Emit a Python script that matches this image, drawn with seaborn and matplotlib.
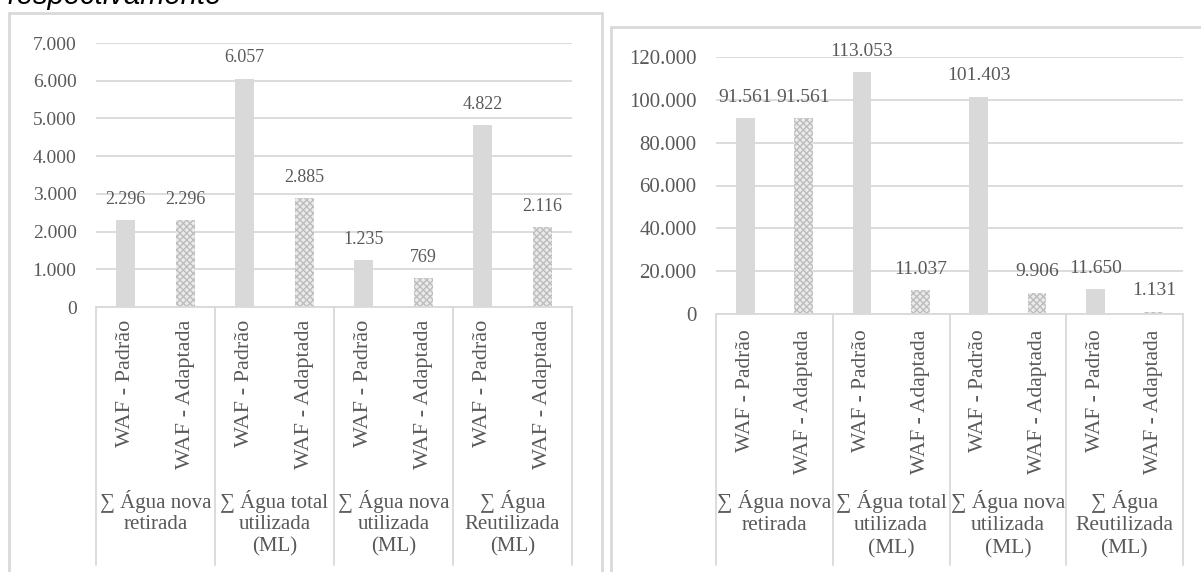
import matplotlib
matplotlib.use("Agg")
import matplotlib.pyplot as plt
import matplotlib.transforms as mtransforms
from matplotlib.patches import Rectangle
import seaborn as sns
import pandas as pd

# ---- data -------------------------------------------------------------
grupos = [
    "∑ Água nova\nretirada",
    "∑ Água total\nutilizada\n(ML)",
    "∑ Água nova\nutilizada\n(ML)",
    "∑ Água\nReutilizada\n(ML)",
]
metodos = ["WAF - Padrão", "WAF - Adaptada"]

valores_esq = [2296, 2296, 6057, 2885, 1235, 769, 4822, 2116]
valores_dir = [91561, 91561, 113053, 11037, 101403, 9906, 11650, 1131]

ticks_esq = [0, 1000, 2000, 3000, 4000, 5000, 6000, 7000]
ticks_dir = [0, 20000, 40000, 60000, 80000, 100000, 120000]

# ---- style ------------------------------------------------------------
sns.set_theme(style="white")
plt.rcParams["font.family"] = ["Liberation Serif", "DejaVu Serif"]
plt.rcParams["hatch.linewidth"] = 1.0

CINZA = "#d9d9d9"
TEXTO = "#595959"
W, H = 1201, 572

fig = plt.figure(figsize=(W / 100, H / 100), dpi=100)


def fx(px):
    return px / W


def fy(py):
    return 1 - py / H


def milhar(v):
    return f"{int(v):,}".replace(",", ".")


# panel frames
for x0, y0, x1 in [(9, 13, 602), (611, 27, 1205)]:
    fig.patches.append(Rectangle((fx(x0), fy(H + 10)), fx(x1) - fx(x0),
                                 fy(y0) - fy(H + 10), transform=fig.transFigure,
                                 fill=False, edgecolor=CINZA, linewidth=2))

fig.text(fx(8), fy(4), "respectivamente", fontsize=21, style="italic",
         family="Liberation Sans", color="black", va="baseline", ha="left")


def painel(box, valores, ticks, ymax, fs_tick, fs_rot, fs_grp, fs_val,
           rot_pad, grp_top, grp_ls, sep_end):
    x0, ytop, x1, ybot = box
    ax = fig.add_axes([fx(x0), fy(ybot), fx(x1) - fx(x0), fy(ytop) - fy(ybot)])
    chaves = [f"{g}|{m}" for g in range(len(grupos)) for m in metodos]
    df = pd.DataFrame({"chave": chaves, "valor": valores})
    sns.barplot(data=df, x="chave", y="valor", order=chaves, color=CINZA,
                saturation=1, width=0.32, ax=ax)
    for i, p in enumerate(ax.patches):
        p.set_edgecolor(CINZA)
        p.set_linewidth(0)
        if i % 2 == 1:
            p.set_facecolor("#ebebeb")
            p.set_hatch("xxxxx")
            p.set_edgecolor("#bdbdbd")
    ax.set_ylim(0, ymax)
    ax.set_xlim(-0.5, len(chaves) - 0.5)
    ax.set_yticks(ticks)
    ax.set_yticklabels([milhar(t) for t in ticks], fontsize=fs_tick, color=TEXTO)
    ax.yaxis.grid(True, color=CINZA, linewidth=1.3)
    ax.set_axisbelow(True)
    ax.set_xticks(range(len(chaves)))
    ax.set_xticklabels([c.split("|")[1] for c in chaves], rotation=90,
                       fontsize=fs_rot, color=TEXTO, va="top", ha="center")
    ax.tick_params(axis="x", length=0, pad=rot_pad)
    ax.tick_params(axis="y", length=0, pad=14)
    ax.set_xlabel("")
    ax.set_ylabel("")
    for s in ["top", "right", "left"]:
        ax.spines[s].set_visible(False)
    ax.spines["bottom"].set_color(CINZA)
    ax.spines["bottom"].set_linewidth(1.3)

    for p, v in zip(ax.patches, valores):
        ax.annotate(milhar(v), (p.get_x() + p.get_width() / 2, v),
                    xytext=(0, 15), textcoords="offset points",
                    ha="center", va="center", fontsize=fs_val, color=TEXTO)

    # category separators below the axis
    altura = ybot - ytop
    trans = mtransforms.blended_transform_factory(ax.transData, ax.transAxes)
    yb = -(sep_end - ybot) / altura
    for k in range(len(grupos) + 1):
        xs = -0.5 + 2 * k
        ax.plot([xs, xs], [0, yb], color=CINZA, linewidth=1.3,
                transform=trans, clip_on=False)
    yt = -(grp_top - ybot) / altura
    for g, nome in enumerate(grupos):
        ax.text(2 * g + 0.5, yt, nome, transform=trans, ha="center", va="top",
                fontsize=fs_grp, color=TEXTO, linespacing=grp_ls,
                multialignment="center")
    return ax


painel((96, 43, 572, 307), valores_esq, ticks_esq, 7000,
       fs_tick=14, fs_rot=16, fs_grp=15, fs_val=13, rot_pad=9,
       grp_top=490, grp_ls=1.17, sep_end=565)
painel((716, 57, 1183, 314), valores_dir, ticks_dir, 120000,
       fs_tick=15, fs_rot=15.5, fs_grp=15.5, fs_val=14, rot_pad=11,
       grp_top=490, grp_ls=1.25, sep_end=565)

fig.savefig("out.png", dpi=100)
